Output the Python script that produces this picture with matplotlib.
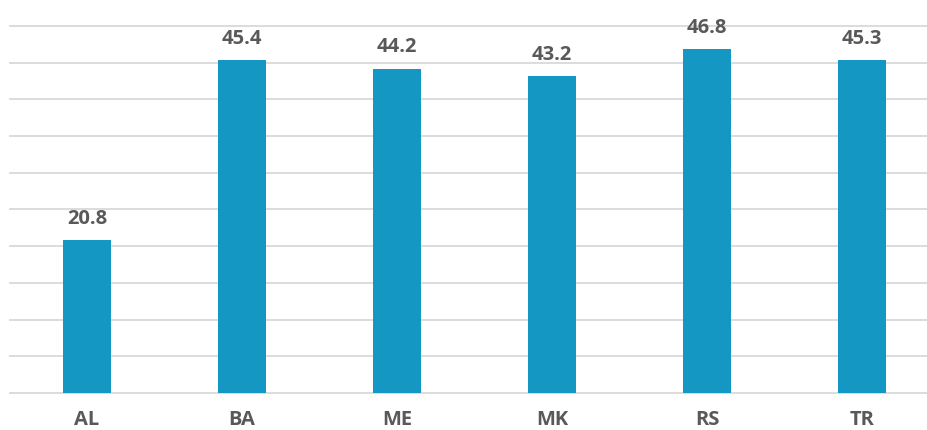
import matplotlib
matplotlib.use("Agg")
import matplotlib.pyplot as plt

# data
countries = ["AL", "BA", "ME", "MK", "RS", "TR"]
values = [20.8, 45.4, 44.2, 43.2, 46.8, 45.3]

bar_color = "#1597C3"
text_color = "#595959"
grid_color = "#D9D9D9"

plt.rcParams["font.family"] = ["Open Sans", "DejaVu Sans"]

fig = plt.figure(figsize=(9.27, 4.30), dpi=100)
ax = fig.add_axes([9.5 / 927, 1 - 393 / 430, (927 - 9.5) / 927, (393 - 26) / 430])

x = list(range(len(countries)))
ax.bar(x, values, width=0.31, color=bar_color, zorder=3)

for xi, v in zip(x, values):
    ax.annotate(f"{v:.1f}", (xi, v), xytext=(0, 8), textcoords="offset points",
                ha="center", va="bottom", fontsize=14.5, fontweight="bold",
                color=text_color)

ax.set_xlim(-0.5, -0.5 + (927 - 9.5) / 155)
ax.set_ylim(0, 50)
ax.set_yticks(range(0, 51, 5))
ax.yaxis.grid(True, color=grid_color, linewidth=1.3, zorder=0)
for gl in ax.get_ygridlines():
    gl.set_clip_on(False)
ax.tick_params(axis="y", left=False, labelleft=False)
ax.set_xticks(x)
ax.set_xticklabels(countries, fontsize=14.5, fontweight="bold", color=text_color)
ax.tick_params(axis="x", length=0, pad=12)
for s in ax.spines.values():
    s.set_visible(False)

fig.savefig("out.png", dpi=100)
